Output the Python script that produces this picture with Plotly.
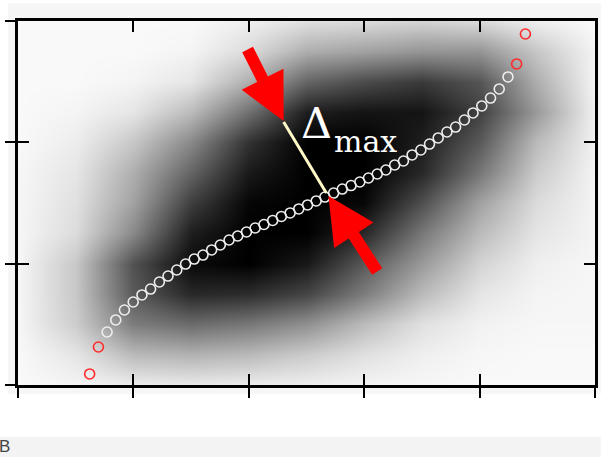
import plotly.graph_objects as go

# ---------------- data ----------------
grid_x = [0.0, 0.5, 1.0, 1.5, 2.0, 2.5, 3.0, 3.5, 4.0, 4.5, 5.0]
grid_y = [0.0, 0.25, 0.5, 0.75, 1.0, 1.25, 1.5, 1.75, 2.0, 2.25, 2.5, 2.75, 3.0]
density = [
    [0.00, 0.02, 0.05, 0.06, 0.05, 0.04, 0.02, 0.01, 0.00, 0.00, 0.00],
    [0.00, 0.08, 0.25, 0.28, 0.25, 0.18, 0.10, 0.04, 0.01, 0.00, 0.00],
    [0.01, 0.18, 0.50, 0.57, 0.52, 0.42, 0.25, 0.10, 0.03, 0.01, 0.01],
    [0.01, 0.20, 0.64, 0.84, 0.82, 0.72, 0.50, 0.25, 0.08, 0.02, 0.01],
    [0.01, 0.20, 0.67, 0.96, 1.00, 0.90, 0.64, 0.38, 0.15, 0.04, 0.01],
    [0.01, 0.12, 0.45, 0.88, 1.00, 1.00, 0.84, 0.52, 0.25, 0.08, 0.02],
    [0.01, 0.10, 0.35, 0.75, 0.98, 1.00, 0.97, 0.68, 0.35, 0.12, 0.02],
    [0.01, 0.08, 0.30, 0.60, 0.90, 1.00, 1.00, 0.84, 0.52, 0.18, 0.02],
    [0.00, 0.05, 0.20, 0.45, 0.80, 1.00, 1.00, 0.88, 0.64, 0.25, 0.03],
    [0.00, 0.02, 0.08, 0.25, 0.55, 0.88, 0.92, 0.92, 0.74, 0.38, 0.03],
    [0.00, 0.00, 0.02, 0.08, 0.30, 0.60, 0.70, 0.77, 0.66, 0.30, 0.02],
    [0.00, 0.00, 0.00, 0.02, 0.12, 0.30, 0.35, 0.40, 0.40, 0.20, 0.02],
    [0.00, 0.00, 0.00, 0.00, 0.04, 0.10, 0.12, 0.15, 0.12, 0.04, 0.00],
]

curve_x = [0.621, 0.697, 0.772, 0.847, 0.922, 0.998, 1.074, 1.149, 1.225, 1.300,
           1.376, 1.452, 1.527, 1.603, 1.678, 1.753, 1.829, 1.904, 1.980, 2.055,
           2.131, 2.207, 2.282, 2.358, 2.433, 2.509, 2.584, 2.659, 2.735, 2.810,
           2.886, 2.962, 3.037, 3.113, 3.188, 3.264, 3.340, 3.415, 3.491, 3.566,
           3.641, 3.717, 3.792, 3.868, 3.943, 4.019, 4.095, 4.170, 4.246, 4.321,
           4.397]
curve_y = [0.091, 0.313, 0.437, 0.536, 0.618, 0.684, 0.742, 0.791, 0.849, 0.898,
           0.948, 0.997, 1.038, 1.071, 1.113, 1.154, 1.195, 1.228, 1.261, 1.294,
           1.323, 1.356, 1.389, 1.418, 1.451, 1.484, 1.517, 1.549, 1.582, 1.615,
           1.644, 1.673, 1.706, 1.739, 1.772, 1.813, 1.846, 1.896, 1.937, 1.986,
           2.036, 2.085, 2.126, 2.184, 2.242, 2.300, 2.365, 2.440, 2.539, 2.646,
           2.893]
outlier_idx = [0, 1, 49, 50]

delta_x = [2.302, 2.672]
delta_y = [2.167, 1.582]
arrow_upper = {"tip": (2.302, 2.176), "tail": (1.983, 2.778)}
arrow_lower = {"tip": (2.690, 1.558), "tail": (3.121, 0.923)}
label_delta_pos = (2.586, 2.159)
label_max_pos = (2.724, 2.007)

xticks = [0, 1, 2, 3, 4, 5]
yticks = [0, 1, 2, 3]

# ---------------- figure ----------------
fig = go.Figure()

fig.add_trace(go.Heatmap(
    x=grid_x, y=grid_y, z=density, zmin=0, zmax=1, zsmooth="best",
    colorscale=[[0, "#f9f9f9"], [1, "#000000"]], showscale=False,
    hoverinfo="skip",
))

inner_x = [v for i, v in enumerate(curve_x) if i not in outlier_idx]
inner_y = [v for i, v in enumerate(curve_y) if i not in outlier_idx]
out_x = [curve_x[i] for i in outlier_idx]
out_y = [curve_y[i] for i in outlier_idx]

fig.add_trace(go.Scatter(
    x=inner_x, y=inner_y, mode="markers",
    marker=dict(symbol="circle-open", size=10, color="#eeeeee", line=dict(width=1.6)),
    showlegend=False,
))
fig.add_trace(go.Scatter(
    x=out_x, y=out_y, mode="markers",
    marker=dict(symbol="circle-open", size=10, color="#ff2a2a", line=dict(width=1.6)),
    showlegend=False,
))
fig.add_trace(go.Scatter(
    x=delta_x, y=delta_y, mode="lines",
    line=dict(color="#fffac8", width=3), showlegend=False,
))
# invisible trace on the overlay axes so the inner ticks are drawn
fig.add_trace(go.Scatter(x=[0], y=[0], xaxis="x2", yaxis="y2", mode="markers",
                         marker=dict(opacity=0), showlegend=False, hoverinfo="skip"))

for arr in (arrow_upper, arrow_lower):
    fig.add_annotation(
        x=arr["tip"][0], y=arr["tip"][1], ax=arr["tail"][0], ay=arr["tail"][1],
        xref="x", yref="y", axref="x", ayref="y", text="", showarrow=True,
        arrowhead=2, arrowsize=0.78, arrowwidth=12, arrowcolor="#ff0000", standoff=0,
    )

fig.add_annotation(
    x=label_delta_pos[0], y=label_delta_pos[1], xref="x", yref="y", text="Δ",
    showarrow=False, xanchor="center", yanchor="middle",
    font=dict(family="DejaVu Serif", size=43, color="white"),
)
fig.add_annotation(
    x=label_max_pos[0], y=label_max_pos[1], xref="x", yref="y", text="max",
    showarrow=False, xanchor="left", yanchor="middle",
    font=dict(family="DejaVu Serif", size=30, color="white"),
)

fig.add_annotation(
    x=-0.037, y=-0.17, xref="paper", yref="paper", text="B", showarrow=False,
    xanchor="left", yanchor="middle",
    font=dict(family="Liberation Sans", size=17, color="#444444"),
)

# pale backgrounds
fig.add_shape(type="rect", xref="paper", yref="paper", x0=-0.0172, x1=1.01,
              y0=-0.0247, y1=1.049, fillcolor="#f6f6f6", line=dict(width=0), layer="below")
fig.add_shape(type="rect", xref="paper", yref="paper", x0=-0.04, x1=1.01,
              y0=-0.198, y1=-0.143, fillcolor="#f3f3f3", line=dict(width=0), layer="below")

axis_common = dict(showgrid=False, zeroline=False, showticklabels=False,
                   showline=True, linecolor="black", linewidth=2.5,
                   tickcolor="black", tickwidth=2)

fig.update_layout(
    width=602, height=457,
    margin=dict(l=18, r=4, t=21, b=72),
    paper_bgcolor="white", plot_bgcolor="#f9f9f9",
    showlegend=False,
    xaxis=dict(range=[0, 5], tickvals=xticks, ticks="outside", ticklen=10,
               mirror=True, **axis_common),
    yaxis=dict(range=[0, 3], tickvals=yticks, ticks="outside", ticklen=10,
               mirror=True, **axis_common),
    xaxis2=dict(range=[0, 5], tickvals=xticks, ticks="inside", ticklen=11,
                mirror="ticks", overlaying="x", side="bottom", **axis_common),
    yaxis2=dict(range=[0, 3], tickvals=yticks, ticks="inside", ticklen=11,
                mirror="ticks", overlaying="y", side="left", **axis_common),
)

fig.write_html("out.html", config={"displayModeBar": False},
               post_script="document.body.style.margin='0';")
